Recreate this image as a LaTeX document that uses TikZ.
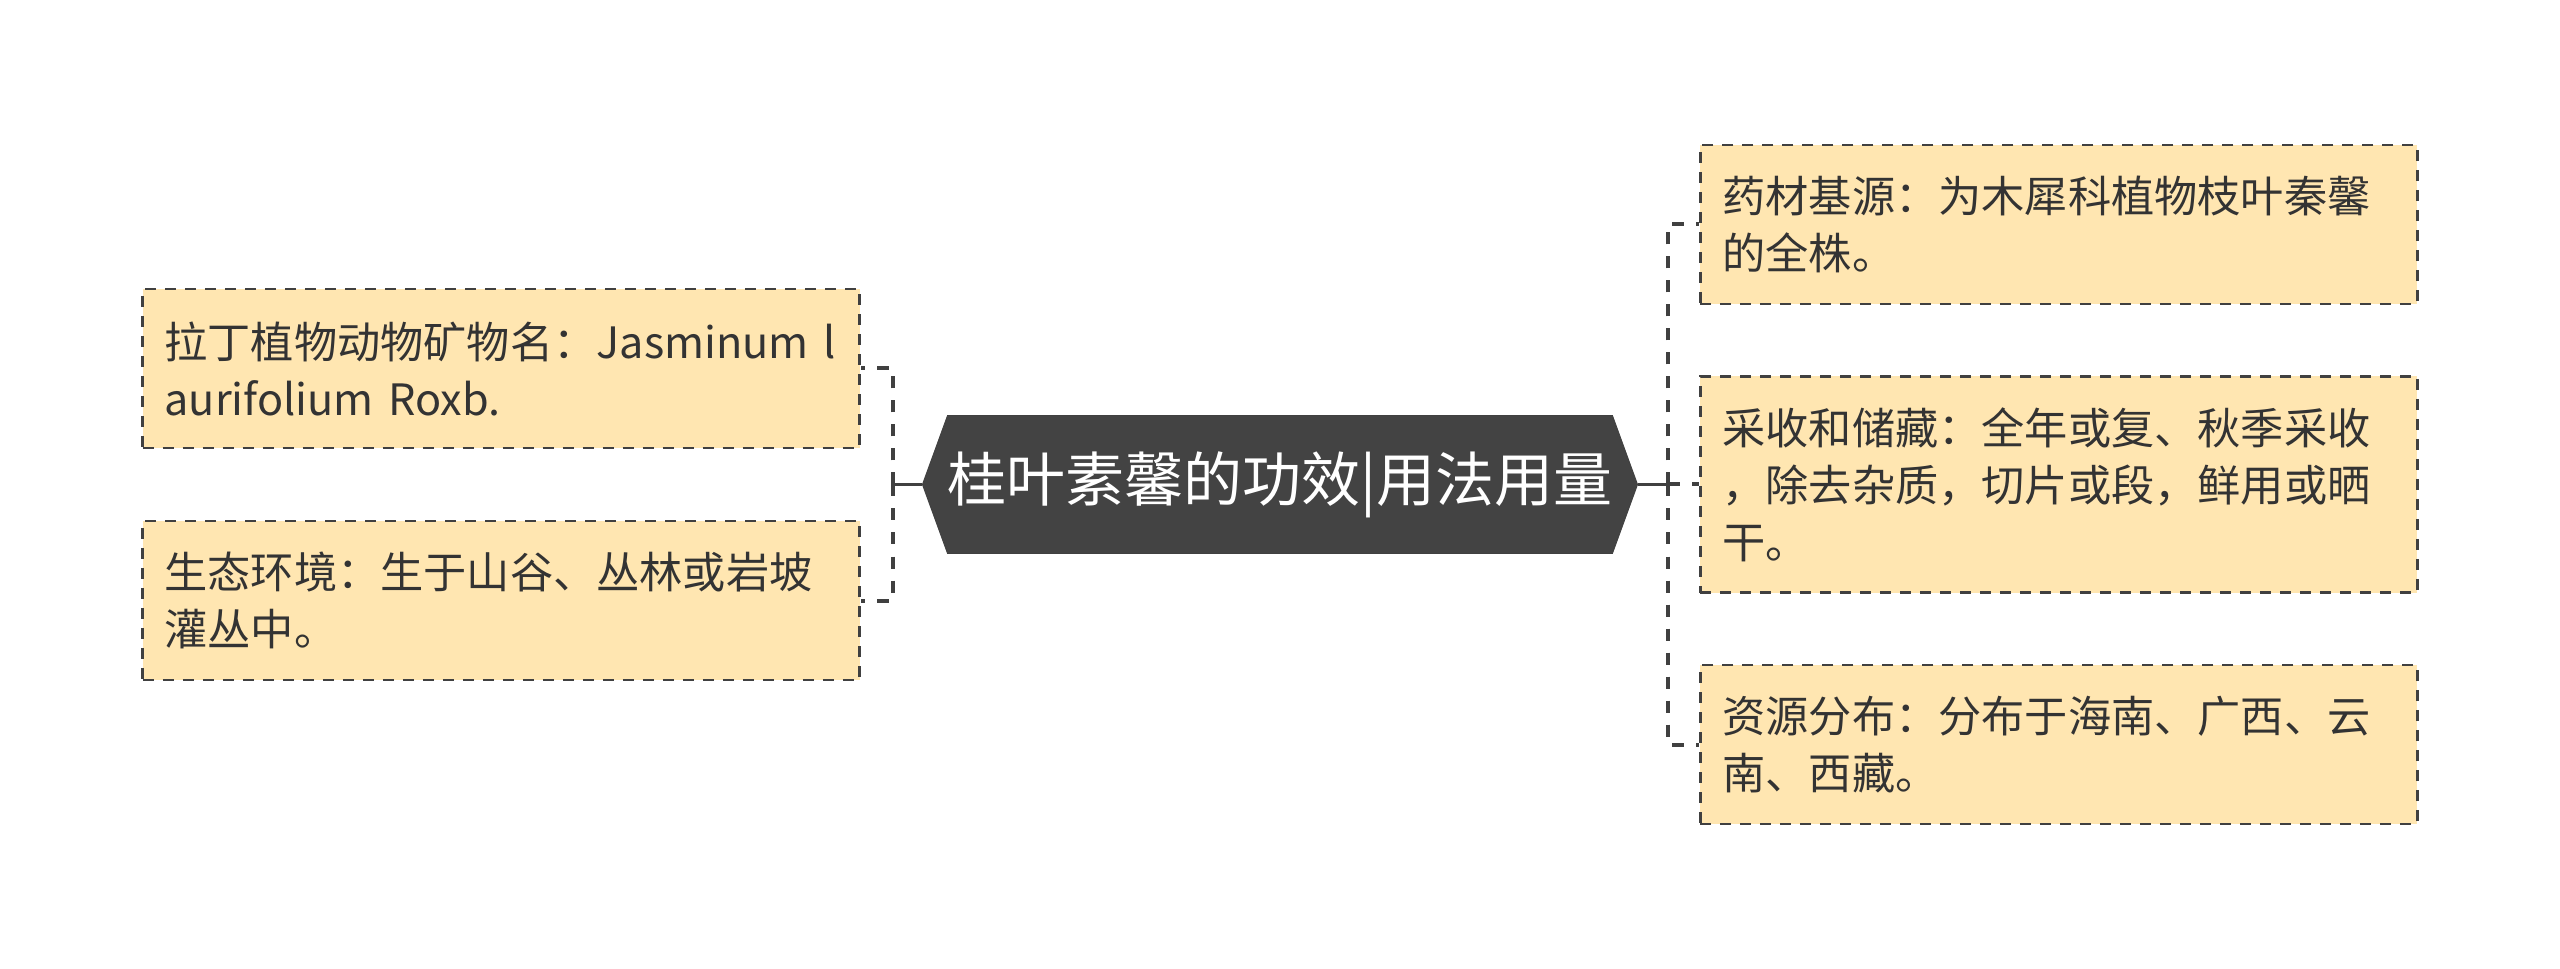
\documentclass[tikz,border=0pt]{standalone}
\usepackage{fontspec}
\setmainfont{Noto Sans CJK SC}
\usepackage{tikz}
\usetikzlibrary{positioning}
\usetikzlibrary{shapes.symbols}

\definecolor{leaffill}{HTML}{FFE6B1}
\definecolor{linegray}{HTML}{404040}
\definecolor{rootfill}{HTML}{434343}
\definecolor{textgray}{HTML}{333333}

\tikzset{
  topic/.style={signal, signal to=west and east, signal pointer angle=140,
    fill=rootfill, draw=linegray, minimum width=356.5pt, minimum height=69pt,
    inner sep=0pt, text=white, font=\fontsize{29.5}{34}\selectfont},
  leaf/.style={rectangle, fill=leaffill, draw=linegray, line width=1.4pt,
    dash pattern=on 5.5pt off 4.5pt, text width=336.5pt, inner xsep=11pt,
    inner ysep=15.5pt, minimum height=79.5pt, align=left, text=textgray,
    font=\fontsize{21.6}{28.5}\selectfont},
  link/.style={draw=linegray, line width=1.6pt},
  bus/.style={link, line width=2pt, dash pattern=on 6pt off 6pt},
}

\begin{document}
\begin{tikzpicture}
\useasboundingbox[fill=white] (-640pt,-242.25pt) rectangle (640pt,242.25pt);

\node[topic]	(root)	{桂叶素馨的功效|用法用量};
\coordinate[left = 14.5pt of root]	(lbus);
\coordinate[right = 15pt of root]	(rbus);

% left branches
\node[leaf, left = 16pt of lbus, yshift=58pt]	(latin)	{拉丁植物动物矿物名：Jasminum~l\\aurifolium Roxb.};
\node[leaf, left = 16pt of lbus, yshift=-58pt]	(habitat)	{生态环境：生于山谷、丛林或岩坡\\灌丛中。};

% right branches
\node[leaf, right = 15.5pt of rbus, yshift=130pt]	(source)	{药材基源：为木犀科植物枝叶秦馨\\的全株。};
\node[leaf, right = 15.5pt of rbus, minimum height=107pt]	(harvest)	{采收和储藏：全年或复、秋季采收\\，除去杂质，切片或段，鲜用或晒\\干。};
\node[leaf, right = 15.5pt of rbus, yshift=-130pt]	(range)	{资源分布：分布于海南、广西、云\\南、西藏。};

% Connect nodes
\draw[link] (root.west) -- (lbus);
\draw[link] (root.east) -- (rbus);
\draw[bus] (lbus) |- (latin.east);
\draw[bus] (lbus) |- (habitat.east);
\draw[bus] (rbus) |- (source.west);
\draw[bus] (rbus) -- (harvest.west);
\draw[bus] (rbus) |- (range.west);

\end{tikzpicture}
\end{document}
